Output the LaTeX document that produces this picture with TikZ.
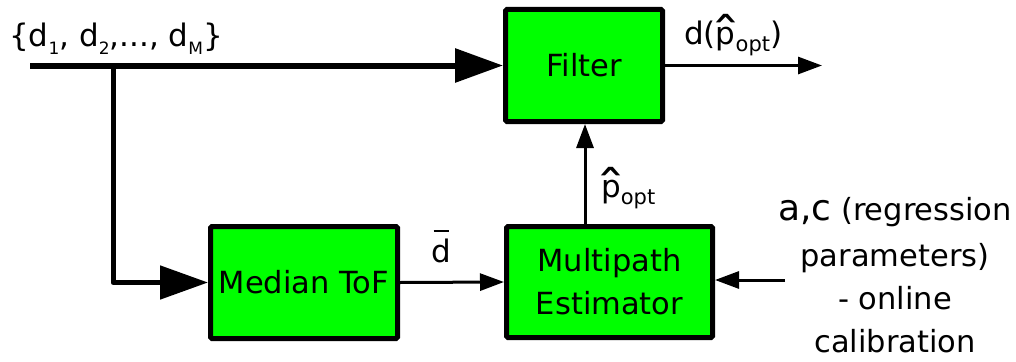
\documentclass[tikz,border=0pt]{standalone}
\usepackage{fontspec}
\usepackage{graphicx}
\setmainfont{DejaVu Sans}
\usetikzlibrary{arrows.meta}

\definecolor{boxgreen}{RGB}{0,255,0}

% lowered small indices and decorated letters
\newcommand\lowsub[1]{\raisebox{-9pt}{\fontsize{17}{17}\selectfont #1}}
\newcommand\optsub{\raisebox{-7pt}{\fontsize{21}{21}\selectfont opt}}
\newcommand\phat{\ooalign{p\cr\hidewidth\raisebox{-7pt}{\scalebox{2}[1.5]{\char"02C6}}\hidewidth\cr}}
\newcommand\dbar{\ooalign{d\cr\hidewidth\rule[30pt]{15pt}{2.5pt}\hidewidth\cr}}

\begin{document}
\begin{tikzpicture}[x=1pt,y=-1pt,
  block/.style={draw=black,line width=5pt,fill=boxgreen,rounded corners=1.5pt,
    inner sep=0pt,font=\fontsize{30.5}{43}\selectfont,align=center},
  bus/.style={line width=6pt,line join=round,-{Triangle[length=48pt,width=33pt]}},
  branch/.style={line width=5pt,line join=round,-{Triangle[length=48pt,width=33pt]}},
  sig/.style={line width=3pt,-{Triangle[length=24pt,width=17pt]}},
  lbl/.style={inner sep=0pt,font=\fontsize{31}{36}\selectfont}]
\useasboundingbox (0,0) rectangle (1016,361);

% processing blocks
\node[block,minimum width=157pt,minimum height=112pt] (filter) at (584,65.5) {Filter};
\node[block,minimum width=187pt,minimum height=112pt] (median) at (304,282.5) {Median ToF};
\node[block,minimum width=206pt,minimum height=111pt] (mpe) at (609.5,282) {Multipath\\Estimator};

% free ends of the signal lines
\coordinate (src) at (30,65.5);
\coordinate (split) at (113,65.5);
\coordinate (sink) at (822,65.5);
\coordinate (cal) at (785,280);
\coordinate (tap) at ([xshift=-24.5pt]mpe.north);

% connectors
\draw[bus] (src) -- (filter.west);
\draw[branch] (split) |- (median.west);
\draw[sig] (filter.east) -- (sink);
\draw[sig] (median.east) -- (mpe.west);
\draw[sig] (cal) -- (cal -| mpe.east);
\draw[sig] (tap) -- (tap |- filter.south);

% labels
\node[lbl,anchor=base west] (inlbl) at (9,46) {\{d\lowsub{1}, d\lowsub{2},..., d\lowsub{M}\}};
\node[lbl,anchor=base west] (outlbl) at (684,45) {d(\phat\optsub)};
\node[lbl,anchor=base west] (plbl) at (601,197) {\phat\optsub};
\node[lbl,anchor=base west] (dlbl) at (431,262) {\dbar};
\node[lbl,align=center,anchor=north,font=\fontsize{30.5}{43}\selectfont] (callbl) at (895,197)
  {{\fontsize{36}{43}\selectfont a,c} (regression\\[3pt]parameters)\\- online\\calibration};
\end{tikzpicture}
\end{document}
